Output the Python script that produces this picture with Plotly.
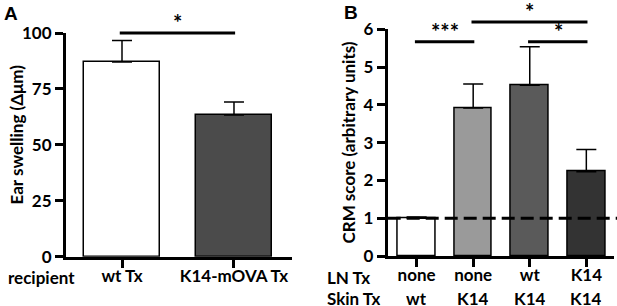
import plotly.graph_objects as go

W, H = 617, 306

# ---------------- data ----------------
a_categories = ["wt Tx", "K14-mOVA Tx"]
a_values = [87.0, 63.3]
a_errors = [9.6, 5.8]
a_colors = ["#ffffff", "#4b4b4b"]
a_yticks = [0, 25, 50, 75, 100]
a_sig = [(0, 1, 100, "*")]

b_ln = ["none", "none", "wt", "K14"]
b_skin = ["wt", "K14", "K14", "K14"]
b_values = [1.0, 3.92, 4.52, 2.23]
b_errors = [0.03, 0.63, 1.02, 0.59]
b_colors = ["#ffffff", "#9a9a9a", "#5a5a5a", "#333333"]
b_yticks = [0, 1, 2, 3, 4, 5, 6]
b_baseline = 1
b_sig = [(0, 1, 5.67, "***"), (1, 3, 6.19, "*"), (2, 3, 5.67, "*")]

# ---------------- layout geometry ----------------
FONT = "Lato"
FS = 17
a_xdom = [66 / W, 292 / W]
a_ydom = [1 - 256.7 / H, 1 - 33 / H]
a_xrange = [-0.5, 1.518]
a_yrange = [0, 100]
b_xdom = [387.7 / W, 614 / W]
b_ydom = [1 - 256 / H, 1 - 29.3 / H]
b_xrange = [-0.511, 3.489]
b_yrange = [0, 6]


def ypaper(v, dom, rng):
    return dom[0] + (v - rng[0]) / (rng[1] - rng[0]) * (dom[1] - dom[0])


a_x = list(range(len(a_categories)))
b_x = list(range(len(b_ln)))

fig = go.Figure()
fig.add_trace(go.Bar(
    x=a_x, y=a_values, width=0.67, xaxis="x", yaxis="y",
    marker=dict(color=a_colors, line=dict(color="black", width=1.5)),
    error_y=dict(type="data", symmetric=False, array=a_errors,
                 arrayminus=[0] * len(a_errors), color="black",
                 thickness=1.5, width=10),
    showlegend=False, hoverinfo="skip"))
fig.add_trace(go.Bar(
    x=b_x, y=b_values, width=0.67, xaxis="x2", yaxis="y2",
    marker=dict(color=b_colors, line=dict(color="black", width=1.5)),
    error_y=dict(type="data", symmetric=False, array=b_errors,
                 arrayminus=[0] * len(b_errors), color="black",
                 thickness=1.5, width=10),
    showlegend=False, hoverinfo="skip"))

labfont = dict(family=FONT, size=FS, color="black", weight="bold")
axis_common = dict(showgrid=False, zeroline=False, showline=True,
                   linecolor="black", linewidth=3, ticks="outside",
                   ticklen=8, tickwidth=3, tickcolor="black",
                   tickfont=labfont, fixedrange=True, automargin=False)
xaxis_common = dict(axis_common, ticklabelstandoff=-6)
yaxis_common = dict(axis_common, ticklabelstandoff=0)

shapes = []
annotations = []
starfont = dict(family=FONT, size=22, color="black", weight="bold")
STAR_SHIFT = -5

for (i, j, v, s) in a_sig:
    yp = ypaper(v, a_ydom, a_yrange)
    shapes.append(dict(type="line", xref="x", yref="paper", x0=i - 0.02, x1=j + 0.01,
                       y0=yp, y1=yp, line=dict(color="black", width=3)))
    annotations.append(dict(x=(i + j) / 2, y=yp, xref="x", yref="paper", text=s,
                            showarrow=False, xanchor="center", yanchor="bottom",
                            yshift=STAR_SHIFT, font=starfont))
for (i, j, v, s) in b_sig:
    yp = ypaper(v, b_ydom, b_yrange)
    shapes.append(dict(type="line", xref="x2", yref="paper", x0=i - 0.03, x1=j + 0.02,
                       y0=yp, y1=yp, line=dict(color="black", width=3)))
    annotations.append(dict(x=(i + j) / 2, y=yp, xref="x2", yref="paper", text=s,
                            showarrow=False, xanchor="center", yanchor="bottom",
                            yshift=STAR_SHIFT, font=starfont))

shapes.append(dict(type="line", xref="paper", yref="y2", x0=b_xdom[0], x1=1,
                   y0=b_baseline, y1=b_baseline, layer="above",
                   line=dict(color="black", width=3, dash="13px,6px")))

# second row of category labels for panel B
for xi, s in zip(b_x, b_skin):
    annotations.append(dict(x=xi, y=1 - 297.5 / H, xref="x2", yref="paper", text=s,
                            showarrow=False, xanchor="center", yanchor="middle",
                            height=16, font=labfont))

panelfont = dict(family="Liberation Sans", size=19, color="black", weight="bold")
annotations += [
    dict(x=2 / W, y=1 - 1 / H, xref="paper", yref="paper", text="A", showarrow=False,
         xanchor="left", yanchor="top", font=panelfont),
    dict(x=342 / W, y=1 - 0 / H, xref="paper", yref="paper", text="B", showarrow=False,
         xanchor="left", yanchor="top", font=panelfont),
    dict(x=16 / W, y=1 - 134.5 / H, xref="paper", yref="paper", text="Ear swelling (Δμm)",
         textangle=-90, showarrow=False, xanchor="center", yanchor="middle", font=labfont),
    dict(x=348 / W, y=1 - 142.5 / H, xref="paper", yref="paper", text="CRM score (arbitrary units)",
         textangle=-90, showarrow=False, xanchor="center", yanchor="middle", font=labfont),
    dict(x=6 / W, y=1 - 277 / H, xref="paper", yref="paper", text="recipient",
         showarrow=False, xanchor="left", yanchor="middle", font=labfont),
    dict(x=325 / W, y=1 - 277 / H, xref="paper", yref="paper", text="LN Tx",
         showarrow=False, xanchor="left", yanchor="middle", font=labfont),
    dict(x=325 / W, y=1 - 297.5 / H, xref="paper", yref="paper", text="Skin Tx",
         showarrow=False, xanchor="left", yanchor="middle", height=16, font=labfont),
]

fig.update_layout(
    width=W, height=H, margin=dict(l=0, r=0, t=0, b=0),
    paper_bgcolor="white", plot_bgcolor="white", bargap=0,
    xaxis=dict(xaxis_common, domain=a_xdom, range=a_xrange, anchor="y",
               tickvals=a_x, ticktext=a_categories),
    yaxis=dict(yaxis_common, domain=a_ydom, range=a_yrange, anchor="x",
               tickvals=a_yticks),
    xaxis2=dict(xaxis_common, domain=b_xdom, range=b_xrange, anchor="y2",
                tickvals=b_x, ticktext=b_ln),
    yaxis2=dict(yaxis_common, domain=b_ydom, range=b_yrange, anchor="x2",
                tickvals=b_yticks),
    shapes=shapes, annotations=annotations,
)

fig.write_html("out.html", config={"displayModeBar": False},
               post_script="document.body.style.margin='0';document.body.style.overflow='hidden';")
